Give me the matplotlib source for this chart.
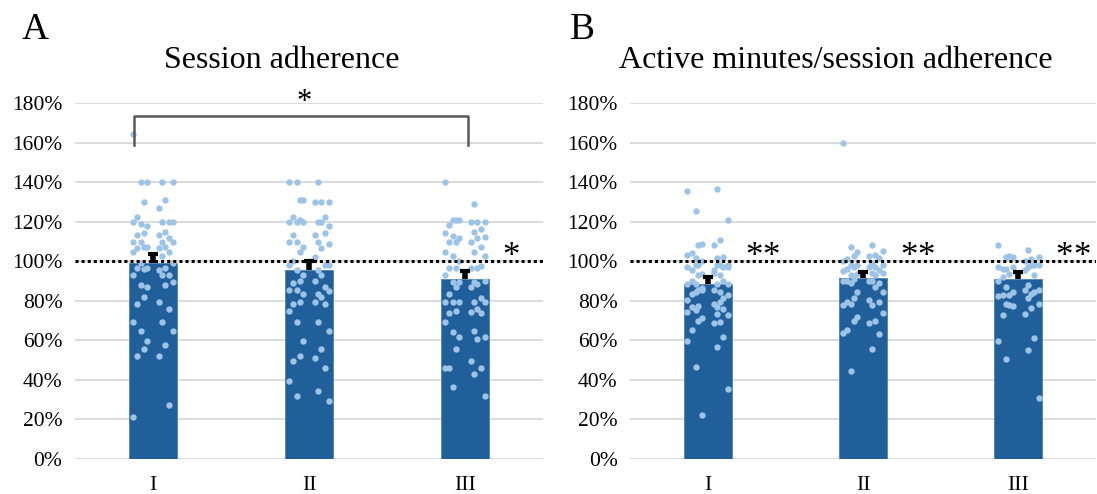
import numpy as np
import matplotlib
matplotlib.use("Agg")
import matplotlib.pyplot as plt

plt.rcParams['font.family'] = ['Liberation Serif', 'DejaVu Serif']

# data (percent)
groups = ["I", "II", "III"]

session_I = [164.4, 140, 140, 140, 140, 130.8, 129.7, 127, 122.2, 120, 120, 120, 118.6, 120, 118,
             115, 114.2, 113.4, 113.4, 111.5, 109.5, 109.5, 109.5, 109.5, 107.3, 107.3, 107.3,
             106.6, 106.6, 104.7, 104.7, 102.5, 99.2, 99.2, 96.4, 96.4, 96, 95.4, 96.4, 92.9,
             92.9, 92.9, 88.1, 89.5, 87.1, 88, 81.9, 79.5, 78.5, 75.8, 69.5, 69.5, 64.7, 64.7,
             59.5, 57.8, 55.6, 52, 52, 27.5, 21.2]
session_II = [140, 140, 140, 129.7, 130.8, 129.7, 130.8, 129.7, 122.2, 122.2, 120, 120, 120, 118,
              120, 120, 121, 113.4, 113.4, 114.2, 109.5, 109.5, 109.5, 108.5, 107.3, 106.6, 104.6,
              102.2, 100, 98, 98.3, 95.8, 95.8, 98.3, 92.9, 92.9, 90.2, 90.2, 89.2, 87.1, 85.6,
              83.6, 85.6, 85, 83.6, 81.9, 79.5, 79.5, 78.5, 78.5, 74.9, 69.5, 69.5, 64.7, 59.5,
              55.6, 52, 51, 49.7, 46.1, 39.5, 34.6, 31.7, 29.5]
session_III = [140, 128.8, 120.8, 120, 120.8, 120, 120.8, 120, 118.1, 116.1, 114.2, 114.9, 113, 112,
               111.5, 111.5, 109.5, 109.5, 109.5, 107.3, 104.6, 104.6, 102.5, 102.5, 100, 96.4,
               96.4, 96.4, 96.4, 97.5, 92.9, 89.5, 89.5, 90.2, 89.5, 88.6, 87.1, 87.1, 83.6, 81.4,
               79.5, 79.5, 79.5, 79.5, 79.5, 75.8, 74.9, 74.5, 74, 74, 69.5, 64.7, 64, 61.7, 61.7,
               60.7, 55.6, 49.7, 46.1, 46.1, 46.1, 43.2, 36.3, 31.7]

active_I = [135.6, 136.4, 125.6, 120.7, 108.9, 110.6, 108.4, 108.4, 104.2, 102.2, 103, 101.5, 101.5,
            98.3, 100, 98.3, 98, 95.8, 95.8, 97, 97, 98.3, 98.3, 97, 93.4, 92.9, 92.9, 94, 90.2,
            90.2, 88.4, 88.4, 88.7, 88.4, 86.5, 84.3, 85.7, 85.7, 83.6, 81.4, 80.3, 76.7, 84.3,
            83.1, 85.2, 79.3, 77.6, 78.4, 77, 76, 74.2, 73.4, 75.5, 73, 71.3, 69.1, 69.6, 68.8,
            65.4, 61.9, 59.7, 56.5, 46.4, 35.4, 22.4]
active_II = [159.9, 108.4, 107.3, 105, 104.5, 102.9, 102.5, 102.5, 101.2, 101.7, 100, 99, 98.3, 98.3,
             98.3, 97, 97, 97, 96, 95.5, 95, 94, 92.9, 94, 93.5, 92.9, 91, 90.2, 90.2, 89, 90,
             90.2, 89.2, 84.3, 84.3, 86.8, 81.5, 80.3, 79.3, 79.3, 78, 78, 78.2, 73.9, 72, 69.6,
             70, 68.8, 65.3, 63.2, 63.6, 55.6, 44.7]
active_III = [108.1, 105.6, 102.2, 102.2, 102.2, 101.2, 102.5, 100, 96, 98.3, 97, 97, 96, 98.3, 97,
              98.3, 93.4, 95.5, 92.2, 92.9, 89.9, 88.2, 87, 85.7, 84.3, 83.6, 83.1, 85.2, 83.1,
              84.3, 82.5, 81.4, 78.4, 78.4, 77.2, 76.4, 77.7, 73.4, 73, 61, 59.9, 55.3, 50.8, 30.7]

session_mean = [99.2, 95.8, 90.8]
session_se = [4.2, 4.2, 4.2]
active_mean = [88.6, 91.5, 91.2]
active_se = [3.4, 3.0, 3.2]

bar_col = '#215F9A'
dot_col = '#9DC3E6'
grid_col = '#D9D9D9'
jit = np.array([-0.13, 0.06, -0.078, 0.13, -0.037, 0.08, -0.06, 0.04, -0.1, 0.1])


def panel(ax, means, ses, points, stars):
    x = np.arange(len(groups))
    m = np.array(means) / 100
    se = np.array(ses) / 100
    ax.bar(x, m, width=0.31, color=bar_col, edgecolor='#4F82B8', linewidth=0.6, zorder=2)
    for i, pts in enumerate(points):
        pts = np.array(pts) / 100
        xs = i + jit[np.arange(len(pts)) % len(jit)]
        ax.scatter(xs, pts, s=21, color=dot_col, linewidths=0, zorder=3)
    # plus-only error bars, Excel style
    ax.vlines(x, m, m + se, color='black', linewidth=4, zorder=4)
    ax.hlines(m + se, x - 0.032, x + 0.032, color='black', linewidth=3, zorder=4)
    ax.axhline(1.0, color='black', linestyle=(0, (1, 1)), linewidth=2.2, zorder=5)
    # significance marks next to each bar
    for i, n in enumerate(stars):
        for k in range(n):
            ax.text(i + 0.24 + k * 0.112, 0.975, '*', ha='left', va='baseline',
                    fontsize=25, zorder=6)
    ax.set_xlim(-0.5, 2.5)
    ax.set_ylim(0, 1.8)
    ax.set_yticks(np.arange(0, 1.81, 0.2))
    ax.set_yticklabels(['%d%%' % round(v * 100) for v in np.arange(0, 1.81, 0.2)])
    ax.set_xticks(x)
    ax.set_xticklabels(groups)
    ax.grid(axis='y', color=grid_col, linewidth=1.3, zorder=0)
    ax.set_axisbelow(True)
    for sp in ax.spines.values():
        sp.set_visible(False)
    ax.tick_params(length=0, labelsize=15.5)
    ax.tick_params(axis='y', pad=9)
    ax.tick_params(axis='x', pad=12)


fig = plt.figure(figsize=(10.97, 4.94), dpi=100)
ax1 = fig.add_axes([75 / 1097, 35 / 494, 468 / 1097, 356 / 494])
ax2 = fig.add_axes([630 / 1097, 35 / 494, 466 / 1097, 356 / 494])

panel(ax1, session_mean, session_se, [session_I, session_II, session_III], [0, 0, 1])
panel(ax2, active_mean, active_se, [active_I, active_II, active_III], [2, 2, 2])

# bracket I vs III
ax1.plot([-0.12, -0.12, 2.02, 2.02], [1.59, 1.735, 1.735, 1.59], color='#595959', linewidth=1.8,
         zorder=5, clip_on=False)
ax1.text(0.97, 1.80, '*', ha='center', va='center', fontsize=22, clip_on=False)

fig.text(22 / 1097, 1 - 30 / 494, 'A', fontsize=27, ha='left', va='center')
fig.text(570 / 1097, 1 - 30 / 494, 'B', fontsize=27, ha='left', va='center')
fig.text(282 / 1097, 1 - 60 / 494, 'Session adherence', fontsize=23, ha='center', va='center')
fig.text(836 / 1097, 1 - 60 / 494, 'Active minutes/session adherence', fontsize=23,
         ha='center', va='center')

fig.savefig('out.png', dpi=100)
